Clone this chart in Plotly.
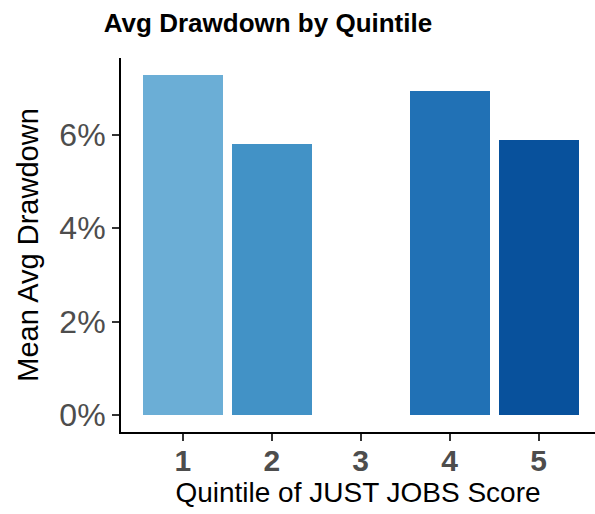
import plotly.graph_objects as go

quintiles = [1, 2, 4, 5]
drawdown = [0.0728, 0.0580, 0.0694, 0.0589]
bar_colors = ["#6BAED6", "#4292C6", "#2171B5", "#08519C"]

x_ticks = [1, 2, 3, 4, 5]
x_labels = ["1", "2", "3", "4", "5"]
y_ticks = [0, 0.02, 0.04, 0.06]
y_labels = ["0%", "2%", "4%", "6%"]

font = "Liberation Sans, Arial, Helvetica, sans-serif"

fig = go.Figure(go.Bar(
    x=quintiles,
    y=drawdown,
    width=0.9,
    marker=dict(color=bar_colors, line=dict(width=0)),
    showlegend=False,
))

fig.update_layout(
    width=595, height=514,
    margin=dict(l=121, r=0, t=58, b=82, autoexpand=False),
    paper_bgcolor="white", plot_bgcolor="white",
    font=dict(family=font, color="black"),
    title=dict(
        text="<b>Avg Drawdown by Quintile</b>",
        font=dict(size=26, color="black", family=font),
        x=268 / 595, xanchor="center", xref="container",
        y=1 - 23 / 514, yanchor="middle", yref="container",
    ),
    bargap=0,
)

fig.update_xaxes(
    range=[0.305, 5.634],
    tickvals=x_ticks, ticktext=["<b>%s</b>" % t for t in x_labels],
    tickfont=dict(size=30, color="#4D4D4D", family=font),
    ticks="outside", ticklen=7, tickwidth=2, tickcolor="#333333",
    ticklabelstandoff=-6,
    showline=True, linecolor="black", linewidth=2,
    showgrid=False, zeroline=False, automargin=False,
    title=dict(text="Quintile of JUST JOBS Score",
               font=dict(size=28, color="black", family=font), standoff=2),
)
fig.update_yaxes(
    range=[-0.00364, 0.07644],
    tickvals=y_ticks, ticktext=y_labels,
    tickfont=dict(size=32, color="#4D4D4D", family=font),
    ticks="outside", ticklen=7, tickwidth=2, tickcolor="#333333",
    showline=True, linecolor="black", linewidth=2,
    showgrid=False, zeroline=False, automargin=False,
    title=dict(text="Mean Avg Drawdown",
               font=dict(size=29, color="black", family=font), standoff=12),
)

fig.write_html(
    "out.html",
    config={"displayModeBar": False},
    post_script="document.body.style.margin='0';document.body.style.overflow='hidden';",
)
